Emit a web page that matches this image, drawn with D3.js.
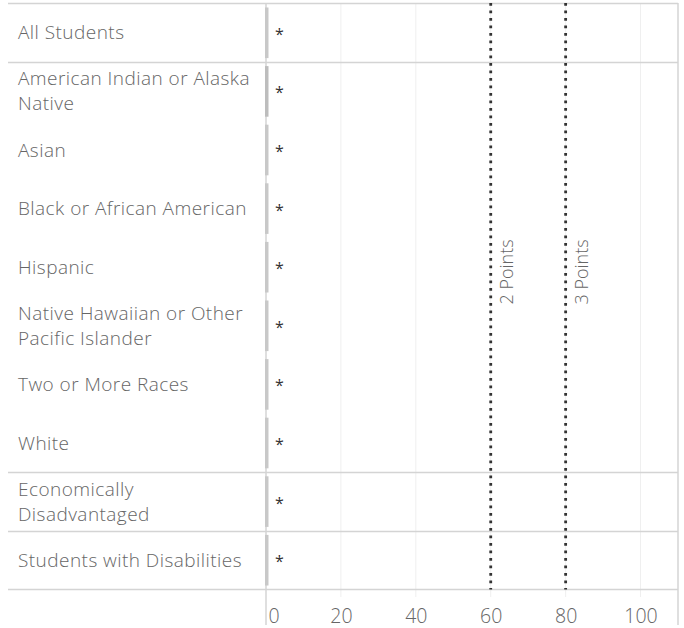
<!DOCTYPE html>
<html><head><meta charset="utf-8">
<script src="https://cdn.jsdelivr.net/npm/d3@7"></script>
<style>body{margin:0;background:#fff;}svg{display:block;font-family:"Open Sans","Noto Sans",sans-serif;font-weight:300;}</style>
</head><body>
<svg id="chart" width="684" height="628"></svg>
<script>
const groups = ["All Students","Race","Economically Disadvantaged","Students with Disabilities"];
const categories = ["All Students","American Indian or Alaska Native","Asian","Black or African American","Hispanic","Native Hawaiian or Other Pacific Islander","Two or More Races","White","Economically Disadvantaged","Students with Disabilities"];
const categoryGroup = ["All Students","Race","Race","Race","Race","Race","Race","Race","Economically Disadvantaged","Students with Disabilities"];
const labelLines = [["All Students"],["American Indian or Alaska","Native"],["Asian"],["Black or African American"],["Hispanic"],["Native Hawaiian or Other","Pacific Islander"],["Two or More Races"],["White"],["Economically","Disadvantaged"],["Students with Disabilities"]];
const values = [0.8,0.8,0.8,0.8,0.8,0.8,0.8,0.8,0.8,0.8];
const valueLabels = ["*","*","*","*","*","*","*","*","*","*"];
const xTicks = [0,20,40,60,80,100];
const refValues = [60,80];
const refLabels = ["2 Points","3 Points"];

const svg = d3.select("#chart");
const mLeft = 266, mRight = 678, mTop = 3, mBottom = 589.5;
const x = d3.scaleLinear().domain([0,110]).range([mLeft,mRight]);
const y = d3.scaleBand().domain(categories).range([mTop+0.5,mBottom]).paddingInner(0).paddingOuter(0);

// grid lines
svg.append("g").selectAll("line").data(xTicks.filter(d=>d>0)).join("line")
  .attr("x1",d=>x(d)).attr("x2",d=>x(d)).attr("y1",mTop).attr("y2",597)
  .attr("stroke","#efefef").attr("stroke-width",1);

// group separators
const sepIdx = [];
categories.forEach((c,i)=>{ if(i>0 && categoryGroup[i]!==categoryGroup[i-1]) sepIdx.push(c); });
svg.append("g").selectAll("line").data(sepIdx).join("line")
  .attr("x1",8).attr("x2",mRight).attr("y1",d=>Math.round(y(d))+0.5).attr("y2",d=>Math.round(y(d))+0.5)
  .attr("stroke","#d4d4d4").attr("stroke-width",1.5);
svg.append("line").attr("x1",8).attr("x2",mRight).attr("y1",mTop+0.5).attr("y2",mTop+0.5).attr("stroke","#d4d4d4").attr("stroke-width",1.5);
svg.append("line").attr("x1",8).attr("x2",mRight).attr("y1",mBottom).attr("y2",mBottom).attr("stroke","#d4d4d4").attr("stroke-width",1.5);
svg.append("line").attr("x1",mRight).attr("x2",mRight).attr("y1",mTop).attr("y2",625).attr("stroke","#d4d4d4").attr("stroke-width",1.5);
svg.append("line").attr("x1",mLeft).attr("x2",mLeft).attr("y1",mTop).attr("y2",625).attr("stroke","#d4d4d4").attr("stroke-width",1.5);

// bars
svg.append("g").selectAll("rect").data(categories).join("rect")
  .attr("x",x(0)-1).attr("y",d=>y(d)+4).attr("height",y.bandwidth()-8)
  .attr("width",(d,i)=>x(values[i])-x(0)+0.5)
  .attr("fill",(d,i)=>i===1?"#bdbdbd":"#c8c8c8");

// reference lines
svg.append("g").selectAll("line").data(refValues).join("line")
  .attr("x1",d=>x(d)).attr("x2",d=>x(d)).attr("y1",mTop).attr("y2",mBottom)
  .attr("stroke","#333").attr("stroke-width",2.8).attr("stroke-dasharray","2.8,4.7");
svg.append("g").selectAll("text").data(refValues).join("text")
  .attr("transform",d=>`translate(${x(d)+22},272) rotate(-90)`)
  .attr("text-anchor","middle").attr("fill","#666").attr("font-size",18)
  .text((d,i)=>refLabels[i]);

// value labels
svg.append("g").selectAll("text").data(categories).join("text")
  .attr("x",x(0)+9).attr("y",d=>y(d)+y.bandwidth()/2+7)
  .attr("fill","#333").attr("font-size",16).attr("font-weight",400)
  .text((d,i)=>valueLabels[i]);

// row labels
const lab = svg.append("g").selectAll("text").data(categories).join("text")
  .attr("fill","#666").attr("font-size",19).attr("letter-spacing",0.45);
lab.each(function(d,i){
  const lines = labelLines[i];
  const cy = y(d)+y.bandwidth()/2;
  const lh = 25;
  const t = d3.select(this);
  lines.forEach((ln,j)=>{
    t.append("tspan").attr("x",18).attr("y",cy + (j-(lines.length-1)/2)*lh + 6.5).text(ln);
  });
});

// x axis
const ax = svg.append("g").attr("transform",`translate(0,${mBottom})`)
  .call(d3.axisBottom(x).tickValues(xTicks).tickSize(0).tickPadding(20));
ax.select(".domain").remove();
ax.selectAll("text").attr("fill","#666").attr("font-size",19.5).attr("font-family","Open Sans, Noto Sans, sans-serif").attr("font-weight",300)
  .attr("text-anchor",d=>d===0?"start":"middle").attr("dx",d=>d===0?2:0);
</script>
</body></html>
